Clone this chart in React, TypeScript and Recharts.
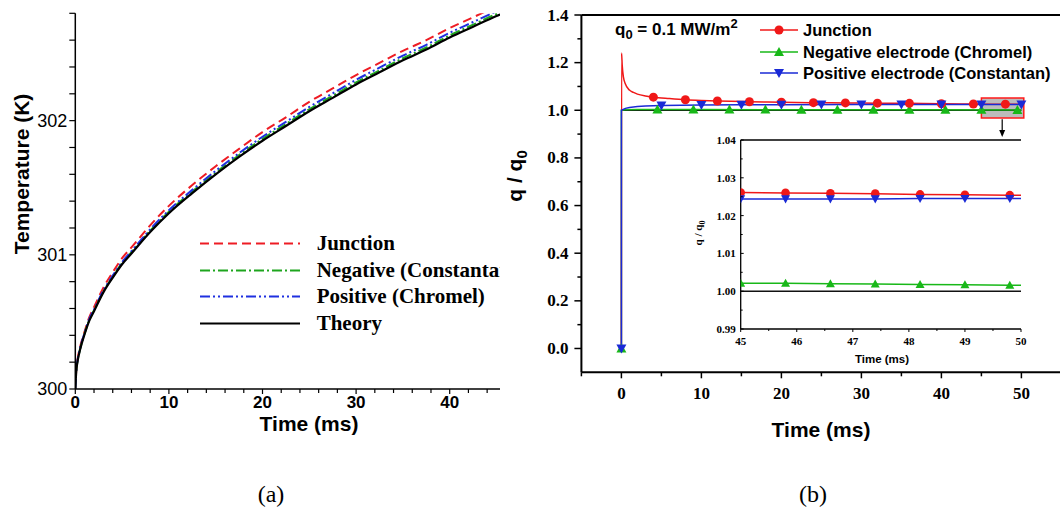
import React from 'react';
import {
    LineChart,
    Line,
    XAxis,
    YAxis,
    ReferenceLine,
    ReferenceArea,
    ReferenceDot,
} from 'recharts';

const SANS = 'Arial, "Liberation Sans", Helvetica, sans-serif';
const SERIF = '"Times New Roman", "Liberation Serif", serif';

// ---------- panel (a): temperature vs time ----------
const timeA = [0, 0.1, 0.25, 0.5, 1, 1.5, 2, 3, 4, 5, 6, 8, 10, 12.5, 15, 17.5, 20, 22.5, 25, 27.5, 30, 32.5, 35, 37.5, 40, 42.5, 45, 47.5, 50];
const junctionA = [300, 300.14, 300.225, 300.31, 300.43, 300.535, 300.61, 300.755, 300.87, 300.975, 301.055, 301.22, 301.365, 301.52, 301.66, 301.79, 301.915, 302.025, 302.14, 302.24, 302.34, 302.43, 302.52, 302.6, 302.69, 302.77, 302.85, 302.92, 303.0];
const negativeA = [300, 300.132, 300.213, 300.294, 300.415, 300.516, 300.587, 300.727, 300.838, 300.938, 301.019, 301.18, 301.321, 301.472, 301.613, 301.744, 301.864, 301.975, 302.085, 302.185, 302.285, 302.375, 302.465, 302.545, 302.635, 302.715, 302.795, 302.865, 302.945];
const positiveA = [300, 300.135, 300.218, 300.3, 300.42, 300.522, 300.593, 300.734, 300.845, 300.946, 301.027, 301.19, 301.332, 301.484, 301.626, 301.758, 301.88, 301.991, 302.102, 302.203, 302.304, 302.395, 302.485, 302.565, 302.655, 302.735, 302.815, 302.885, 302.965];
const theoryA = [300, 300.13, 300.21, 300.29, 300.41, 300.51, 300.58, 300.72, 300.83, 300.93, 301.01, 301.17, 301.31, 301.46, 301.6, 301.73, 301.85, 301.96, 302.07, 302.17, 302.27, 302.36, 302.45, 302.53, 302.62, 302.7, 302.78, 302.85, 302.93];
const ticksAX = [0, 2, 4, 6, 8, 10, 12, 14, 16, 18, 20, 22, 24, 26, 28, 30, 32, 34, 36, 38, 40, 42, 44];
const ticksAY = [300, 300.2, 300.4, 300.6, 300.8, 301, 301.2, 301.4, 301.6, 301.8, 302, 302.2, 302.4, 302.6, 302.8];

const rowsA = timeA.map((t, i) => ({
    t,
    junction: junctionA[i],
    negative: negativeA[i],
    positive: positiveA[i],
    theory: theoryA[i],
}));

const seriesA = [
    { key: 'junction', name: 'Junction', color: '#ee1c24', dash: '9 5' },
    { key: 'negative', name: 'Negative (Constantan)', color: '#1ea51e', dash: '10 3 2 3' },
    { key: 'positive', name: 'Positive (Chromel)', color: '#1f30e0', dash: '10 3 2 3 2 3' },
    { key: 'theory', name: 'Theory', color: '#000000', dash: undefined },
];

// ---------- panel (b): normalised heat flux ----------
const junctionT = [0, 0.02, 0.1, 0.25, 0.5, 1, 1.5, 2, 3, 4, 6, 8, 10, 12, 16, 20, 24, 28, 32, 36, 40, 44, 48, 50];
const junctionQ = [0, 1.24, 1.19, 1.14, 1.11, 1.085, 1.075, 1.068, 1.06, 1.055, 1.049, 1.044, 1.041, 1.039, 1.036, 1.034, 1.032, 1.031, 1.03, 1.029, 1.0275, 1.0262, 1.0256, 1.0254];
const junctionMarkT = [4, 8, 12, 16, 20, 24, 28, 32, 36, 40, 44, 48];
const junctionMarkQ = [1.055, 1.044, 1.039, 1.036, 1.034, 1.032, 1.031, 1.03, 1.029, 1.0275, 1.0262, 1.0256];

const negativeT = [0, 0, 0.5, 2, 5, 10, 20, 30, 40, 50];
const negativeQ = [0, 1.0, 1.002, 1.003, 1.003, 1.003, 1.0025, 1.0022, 1.002, 1.0016];
const negativeMarkT = [0, 4.5, 9, 13.5, 18, 22.5, 27, 31.5, 36, 40.5, 45, 49.5];
const negativeMarkQ = [0, 1.003, 1.003, 1.003, 1.0028, 1.0026, 1.0024, 1.0022, 1.0021, 1.002, 1.0018, 1.0016];

const positiveT = [0, 0, 0.5, 1, 2, 3, 5, 10, 15, 20, 30, 40, 50];
const positiveQ = [0, 1.0, 1.008, 1.012, 1.016, 1.018, 1.02, 1.022, 1.023, 1.0235, 1.024, 1.0244, 1.0245];
const positiveMarkT = [0, 5, 10, 15, 20, 25, 30, 35, 40, 45, 50];
const positiveMarkQ = [0, 1.02, 1.022, 1.023, 1.0235, 1.0238, 1.024, 1.0242, 1.0244, 1.0245, 1.0245];

const theoryT = [0, 50];
const theoryQ = [1, 1];

const ticksBX = [-5, 0, 5, 10, 15, 20, 25, 30, 35, 40, 45, 50, 55];
const ticksBY = [0, 0.1, 0.2, 0.3, 0.4, 0.5, 0.6, 0.7, 0.8, 0.9, 1.0, 1.1, 1.2, 1.3, 1.4];

// inset (45-50 ms zoom)
const insetT = [45, 45.8, 46.6, 47.4, 48.2, 49, 49.8, 50];
const insetJunction = [1.0261, 1.026, 1.0259, 1.0258, 1.0256, 1.0255, 1.0254, 1.0254];
const insetNegative = [1.0021, 1.0021, 1.002, 1.0019, 1.0018, 1.0017, 1.0016, 1.0016];
const insetPositive = [1.0244, 1.0244, 1.0244, 1.0244, 1.0245, 1.0245, 1.0245, 1.0245];
const insetTheory = [1, 1, 1, 1, 1, 1, 1, 1];
const ticksIX = [45, 45.5, 46, 46.5, 47, 47.5, 48, 48.5, 49, 49.5, 50];
const ticksIY = [0.99, 0.995, 1.0, 1.005, 1.01, 1.015, 1.02, 1.025, 1.03, 1.035, 1.04];

const RED = '#f01818';
const GREEN = '#18b818';
const BLUE = '#1a2ad6';

const zip = (ts: number[], qs: number[]) => ts.map((t, i) => ({ t, q: qs[i] }));

// ---------- marker shapes ----------
const Marker = ({ shape, cx, cy, color, s }: { shape: string; cx: number; cy: number; color: string; s: number }) => {
    if (cx == null || cy == null) return null;
    if (shape === 'circle') return <circle cx={cx} cy={cy} r={s * 0.9} fill={color} />;
    if (shape === 'up')
        return <polygon points={`${cx},${cy - s} ${cx + s},${cy + s * 0.8} ${cx - s},${cy + s * 0.8}`} fill={color} />;
    return <polygon points={`${cx - s},${cy - s * 0.8} ${cx + s},${cy - s * 0.8} ${cx},${cy + s}`} fill={color} />;
};

const dotFn = (shape: string, color: string, s: number, skipLast = false) => (p: any) => {
    if (skipLast && p.payload && p.payload.t === 50) return <g key={p.index} />;
    return (
        <g key={p.index}>
            <Marker shape={shape} cx={p.cx} cy={p.cy} color={color} s={s} />
        </g>
    );
};

// ---------- tick renderer (draws its own tick line) ----------
type TickOpts = {
    side: 'left' | 'bottom';
    isMajor: (v: number) => boolean;
    fmt: (v: number) => string;
    len: number;
    minorLen: number;
    inward?: boolean;
    gap: number;
    font: string;
    size: number;
    weight: number | string;
    width?: number;
};

const makeTick = (o: TickOpts) => (props: any) => {
    const { x, y, payload } = props;
    const v = payload.value as number;
    const major = o.isMajor(v);
    const L = (major ? o.len : o.minorLen) * (o.inward ? -1 : 1);
    const sw = o.width ?? 1.2;
    if (o.side === 'left') {
        return (
            <g>
                <line x1={x} y1={y} x2={x - L} y2={y} stroke="#000" strokeWidth={sw} />
                {major && (
                    <text x={x - o.gap} y={y} textAnchor="end" dominantBaseline="central"
                        fontFamily={o.font} fontSize={o.size} fontWeight={o.weight} fill="#000">
                        {o.fmt(v)}
                    </text>
                )}
            </g>
        );
    }
    return (
        <g>
            <line x1={x} y1={y} x2={x} y2={y + L} stroke="#000" strokeWidth={sw} />
            {major && (
                <text x={x} y={y + o.gap} textAnchor="middle" dominantBaseline="central"
                    fontFamily={o.font} fontSize={o.size} fontWeight={o.weight} fill="#000">
                    {o.fmt(v)}
                </text>
            )}
        </g>
    );
};

const near = (v: number, step: number) => Math.abs(v / step - Math.round(v / step)) < 1e-6;

const tickAX = makeTick({ side: 'bottom', isMajor: v => near(v, 10), fmt: v => String(v), len: 5, minorLen: 4, gap: 13, font: SANS, size: 17, weight: 700 });
const tickAY = makeTick({ side: 'left', isMajor: v => near(v, 1), fmt: v => String(v), len: 6, minorLen: 6, gap: 8, font: SANS, size: 18, weight: 400 });
const tickBX = makeTick({ side: 'bottom', isMajor: v => near(v, 10), fmt: v => String(v), len: 6, minorLen: 4, gap: 21, font: SERIF, size: 17, weight: 700, width: 1.5 });
const tickBY = makeTick({ side: 'left', isMajor: v => near(v, 0.2), fmt: v => v.toFixed(1), len: 7, minorLen: 4, gap: 13, font: SERIF, size: 17, weight: 700, width: 1.5 });
const tickIX = makeTick({ side: 'bottom', isMajor: v => near(v, 1), fmt: v => String(v), len: 3, minorLen: 2, gap: 12, font: SERIF, size: 11, weight: 700, width: 1 });
const tickIY = makeTick({ side: 'left', isMajor: v => near(v, 0.01), fmt: v => v.toFixed(2), len: 3, minorLen: 2, inward: true, gap: 5, font: SERIF, size: 11, weight: 700, width: 1 });

const axisStroke = { stroke: '#000', strokeWidth: 1.5 };

// ---------- panel (a) ----------
const PanelA = () => (
    <LineChart width={560} height={509} data={rowsA} margin={{ top: 13.3, right: 16.7, bottom: 90, left: 15.3 }}>
        <XAxis dataKey="t" type="number" domain={[0, 50]} ticks={ticksAX} interval={0} allowDataOverflow
            tickLine={false} tickSize={0} tickMargin={0} tick={tickAX} axisLine={axisStroke} height={30} />
        <YAxis type="number" domain={[300, 302.8]} ticks={ticksAY} interval={0} allowDataOverflow
            tickLine={false} tickSize={0} tickMargin={0} tick={tickAY} axisLine={axisStroke} width={60} />
        {seriesA.map(s => (
            <Line key={s.key} type="monotone" dataKey={s.key} name={s.name} stroke={s.color}
                strokeWidth={s.key === 'theory' ? 2.2 : 2} strokeDasharray={s.dash}
                dot={false} activeDot={false} isAnimationActive={false} />
        ))}
    </LineChart>
);

const LegendA = () => (
    <div style={{ position: 'absolute', left: 200, top: 230 }}>
        {seriesA.map((s, i) => (
            <div key={s.key} style={{ position: 'absolute', left: 0, top: i * 26.7, height: 27, width: 400, whiteSpace: 'nowrap' }}>
                <svg width={100} height={27} style={{ position: 'absolute', left: 0, top: 0 }}>
                    <line x1={0} y1={13.5} x2={100} y2={13.5} stroke={s.color} strokeWidth={2} strokeDasharray={s.dash} />
                </svg>
                <span style={{ position: 'absolute', left: 116.7, top: 0, lineHeight: '27px', fontFamily: SERIF, fontWeight: 700, fontSize: 21, color: '#000' }}>
                    {s.name}
                </span>
            </div>
        ))}
    </div>
);

// ---------- panel (b) ----------
const seriesB = [
    { name: 'Junction', color: RED, shape: 'circle' },
    { name: 'Negative electrode (Chromel)', color: GREEN, shape: 'up' },
    { name: 'Positive electrode (Constantan)', color: BLUE, shape: 'down' },
];

const PanelB = () => (
    <LineChart width={580} height={509} margin={{ top: 15, right: 18.6, bottom: 96.7, left: 21.4 }}>
        <XAxis dataKey="t" type="number" domain={[-5, 55]} ticks={ticksBX} interval={0} allowDataOverflow
            tickLine={false} tickSize={0} tickMargin={0} tick={tickBX} axisLine={{ stroke: '#000', strokeWidth: 2 }} height={40} />
        <YAxis dataKey="q" type="number" domain={[-0.1, 1.4]} ticks={ticksBY} interval={0} allowDataOverflow
            tickLine={false} tickSize={0} tickMargin={0} tick={tickBY} axisLine={{ stroke: '#000', strokeWidth: 2 }} width={60} />
        <ReferenceLine y={1.4} stroke="#000" strokeWidth={2} />
        <ReferenceArea x1={45} x2={50.3} y1={0.968} y2={1.052} fill="#bcbcbc" fillOpacity={1} stroke="#ff1a1a" strokeWidth={1.5} />
        <Line data={zip(theoryT, theoryQ)} dataKey="q" type="linear" stroke="#111" strokeWidth={1.5} dot={false} activeDot={false} isAnimationActive={false} />
        <Line data={zip(negativeT, negativeQ)} dataKey="q" type="linear" stroke={GREEN} strokeWidth={1.5} dot={false} activeDot={false} isAnimationActive={false} />
        <Line data={zip(negativeMarkT, negativeMarkQ)} dataKey="q" stroke="none" dot={dotFn('up', GREEN, 5)} activeDot={false} isAnimationActive={false} />
        <Line data={zip(junctionT, junctionQ)} dataKey="q" type="monotone" stroke={RED} strokeWidth={1.5} dot={false} activeDot={false} isAnimationActive={false} />
        <Line data={zip(junctionMarkT, junctionMarkQ)} dataKey="q" stroke="none" dot={dotFn('circle', RED, 5)} activeDot={false} isAnimationActive={false} />
        <Line data={zip(positiveT, positiveQ)} dataKey="q" type="linear" stroke={BLUE} strokeWidth={1.5} dot={false} activeDot={false} isAnimationActive={false} />
        <Line data={zip(positiveMarkT, positiveMarkQ)} dataKey="q" stroke="none" dot={dotFn('down', BLUE, 5)} activeDot={false} isAnimationActive={false} />
        <ReferenceLine segment={[{ x: 47.6, y: 0.962 }, { x: 47.6, y: 0.9 }]} stroke="#000" strokeWidth={1.2} />
        <ReferenceDot x={47.6} y={0.888} r={0}
            shape={(p: any) => <polygon points={`${p.cx - 3},${p.cy - 7} ${p.cx + 3},${p.cy - 7} ${p.cx},${p.cy}`} fill="#000" />} />
    </LineChart>
);

const LegendB = () => (
    <div style={{ position: 'absolute', left: 760, top: 0 }}>
        {seriesB.map((s, i) => (
            <div key={s.name} style={{ position: 'absolute', left: 0, top: 30 + i * 21.5 - 11, height: 22, width: 320, whiteSpace: 'nowrap' }}>
                <svg width={40} height={22} style={{ position: 'absolute', left: 0, top: 0 }}>
                    <line x1={0} y1={11} x2={38} y2={11} stroke={s.color} strokeWidth={1.5} />
                    <Marker shape={s.shape} cx={19} cy={11} color={s.color} s={5} />
                </svg>
                <span style={{ position: 'absolute', left: 43, top: 0, lineHeight: '22px', fontFamily: SANS, fontWeight: 700, fontSize: 16.5, color: '#000' }}>
                    {s.name}
                </span>
            </div>
        ))}
    </div>
);

const Inset = () => (
    <LineChart width={360} height={260} margin={{ top: 20, right: 19, bottom: 31, left: 20.7 }}>
        <XAxis dataKey="t" type="number" domain={[45, 50]} ticks={ticksIX} interval={0} allowDataOverflow
            tickLine={false} tickSize={0} tickMargin={0} tick={tickIX} axisLine={{ stroke: '#000', strokeWidth: 1.3 }} height={20} />
        <YAxis dataKey="q" type="number" domain={[0.99, 1.04]} ticks={ticksIY} interval={0} allowDataOverflow
            tickLine={false} tickSize={0} tickMargin={0} tick={tickIY} axisLine={{ stroke: '#000', strokeWidth: 1.3 }} width={40} />
        <ReferenceLine y={1.04} stroke="#000" strokeWidth={1.3} />
        <Line data={zip(insetT, insetTheory)} dataKey="q" type="linear" stroke="#111" strokeWidth={1.5} dot={false} activeDot={false} isAnimationActive={false} />
        <Line data={zip(insetT, insetNegative)} dataKey="q" type="linear" stroke={GREEN} strokeWidth={1.5} dot={dotFn('up', GREEN, 4.5, true)} activeDot={false} isAnimationActive={false} />
        <Line data={zip(insetT, insetJunction)} dataKey="q" type="linear" stroke={RED} strokeWidth={1.5} dot={dotFn('circle', RED, 4.8, true)} activeDot={false} isAnimationActive={false} />
        <Line data={zip(insetT, insetPositive)} dataKey="q" type="linear" stroke={BLUE} strokeWidth={1.5} dot={dotFn('down', BLUE, 4.5, true)} activeDot={false} isAnimationActive={false} />
    </LineChart>
);

const abs = (left: number, top: number, extra: React.CSSProperties = {}): React.CSSProperties => ({
    position: 'absolute',
    left,
    top,
    whiteSpace: 'nowrap',
    color: '#000',
    ...extra,
});

const App = () => (
    <div style={{ position: 'absolute', left: 0, top: 0, width: 1060, height: 509, overflow: 'hidden', background: '#fff' }}>
        {/* (a) - cut off on the right like the source figure */}
        <div style={{ position: 'absolute', left: 0, top: 0, width: 500, height: 509, overflow: 'hidden' }}>
            <PanelA />
            <LegendA />
            <div style={abs(22, 173.5, { transform: 'translate(-50%, -50%) rotate(-90deg)', fontFamily: SANS, fontWeight: 700, fontSize: 21 })}>
                Temperature (K)
            </div>
            <div style={abs(309, 424, { transform: 'translate(-50%, -50%)', fontFamily: SANS, fontWeight: 700, fontSize: 21 })}>
                Time (ms)
            </div>
        </div>

        {/* (b) */}
        <div style={{ position: 'absolute', left: 500, top: 0, width: 580, height: 509 }}>
            <PanelB />
        </div>
        <div style={{ position: 'absolute', left: 680, top: 120, width: 360, height: 260 }}>
            <Inset />
        </div>
        <LegendB />
        <div style={abs(615, 21, { fontFamily: SANS, fontWeight: 700, fontSize: 17, lineHeight: '17px' })}>
            q<sub style={{ fontSize: 13, lineHeight: 0 }}>0</sub> = 0.1 MW/m<sup style={{ fontSize: 13, lineHeight: 0 }}>2</sup>
        </div>
        <div style={abs(514.6, 176, { transform: 'translate(-50%, -50%) rotate(-90deg)', fontFamily: SANS, fontWeight: 700, fontSize: 21 })}>
            q / q<sub style={{ fontSize: 15, lineHeight: 0 }}>0</sub>
        </div>
        <div style={abs(821, 430, { transform: 'translate(-50%, -50%)', fontFamily: SANS, fontWeight: 700, fontSize: 21 })}>
            Time (ms)
        </div>
        <div style={abs(698, 233, { transform: 'translate(-50%, -50%) rotate(-90deg)', fontFamily: SERIF, fontWeight: 700, fontSize: 11 })}>
            q / q<sub style={{ fontSize: 8, lineHeight: 0 }}>0</sub>
        </div>
        <div style={abs(882, 359, { transform: 'translate(-50%, -50%)', fontFamily: SANS, fontWeight: 700, fontSize: 11.5 })}>
            Time (ms)
        </div>

        {/* captions */}
        <div style={abs(271, 494, { transform: 'translate(-50%, -50%)', fontFamily: SERIF, fontSize: 24 })}>(a)</div>
        <div style={abs(813, 494, { transform: 'translate(-50%, -50%)', fontFamily: SERIF, fontSize: 24 })}>(b)</div>
    </div>
);

export default App;
